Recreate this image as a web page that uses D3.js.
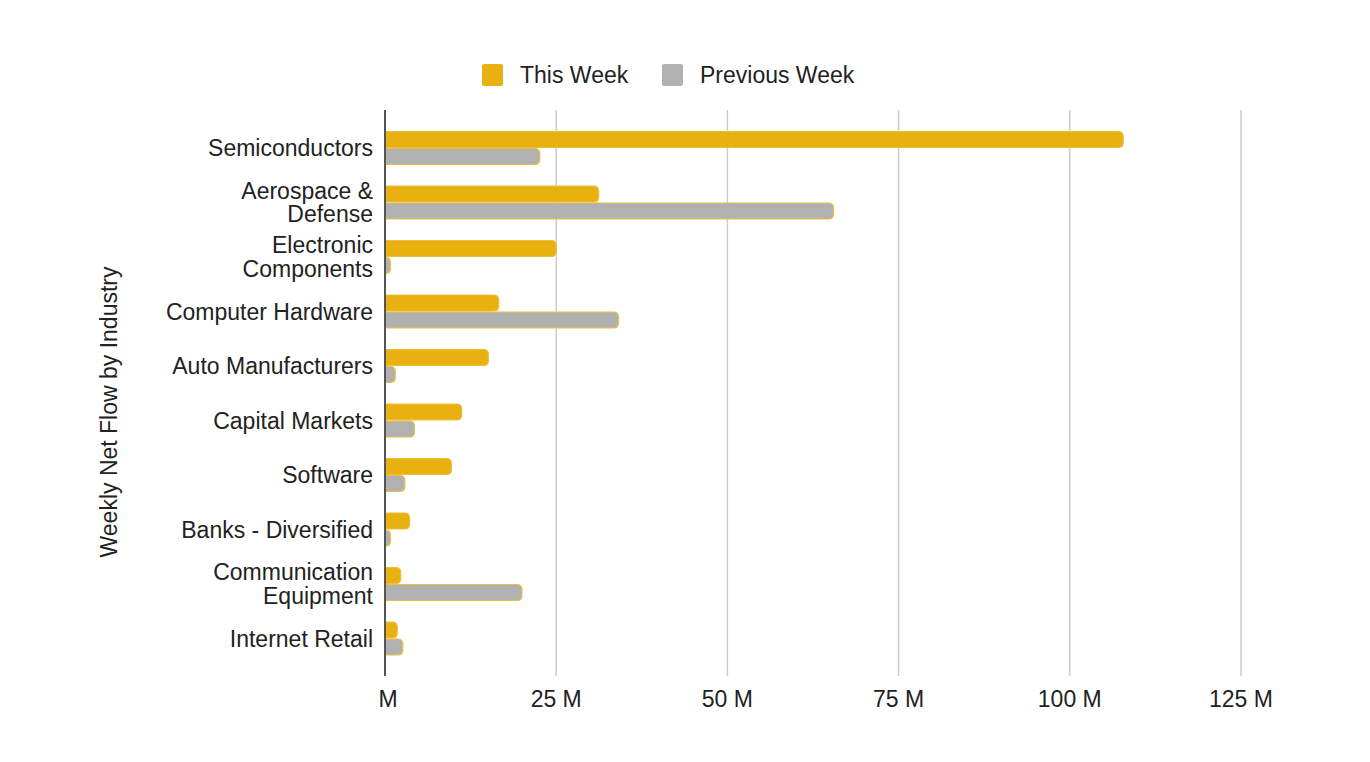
<!DOCTYPE html>
<html>
<head>
<meta charset="utf-8">
<script src="https://cdn.jsdelivr.net/npm/d3@7"></script>
<style>
  body { margin: 0; background: #fff; }
  svg { display: block; font-family: 'Liberation Sans', Arial, sans-serif; }
</style>
</head>
<body>
<svg id="chart"></svg>
<script>
const width = 1370
const height = 762
const margin = { top: 110, right: 129, bottom: 86, left: 385 }

// industries, top to bottom
const industries = [
  'Semiconductors', 'Aerospace & Defense', 'Electronic Components', 'Computer Hardware',
  'Auto Manufacturers', 'Capital Markets', 'Software', 'Banks - Diversified',
  'Communication Equipment', 'Internet Retail'
]
// label lines as shown on the axis
const labelLines = [
  ['Semiconductors'], ['Aerospace &', 'Defense'], ['Electronic', 'Components'], ['Computer Hardware'],
  ['Auto Manufacturers'], ['Capital Markets'], ['Software'], ['Banks - Diversified'],
  ['Communication', 'Equipment'], ['Internet Retail']
]
const series = ['This Week', 'Previous Week']
const thisWeek = [107.8, 31.2, 25.0, 16.6, 15.1, 11.2, 9.7, 3.6, 2.3, 1.8]
const previousWeek = [22.6, 65.5, 0.8, 34.1, 1.5, 4.3, 2.9, 0.8, 20.0, 2.6]
const xTicks = [0, 25, 50, 75, 100, 125]

const fontSize = '23px'

const color = d3.scaleOrdinal()
  .domain(series)
  .range(['#e8b10f', '#b1b1b1'])

const svg = d3.select('#chart')
  .attr('width', width)
  .attr('height', height)

const x = d3.scaleLinear()
  .domain([0, 125])
  .range([margin.left, width - margin.right])

const y = d3.scaleBand()
  .domain(industries)
  .range([120.75, 665.75])
  .paddingInner(0.376)
  .paddingOuter(0.188)

const ySub = d3.scaleBand()
  .domain(series)
  .range([0, y.bandwidth()])

const data = industries.map((name, i) => ({
  name,
  values: [
    { key: 'This Week', value: thisWeek[i] },
    { key: 'Previous Week', value: previousWeek[i] }
  ]
}))

// vertical gridlines
svg.append('g')
  .selectAll('line')
  .data(xTicks.slice(1))
  .enter()
  .append('line')
  .attr('x1', d => x(d))
  .attr('x2', d => x(d))
  .attr('y1', margin.top)
  .attr('y2', height - margin.bottom)
  .attr('stroke', '#cccccc')
  .attr('stroke-width', 1.5)

// bar with rounded right end
function barPath (x0, y0, w, h, r) {
  r = Math.min(r, w, h / 2)
  return `M${x0},${y0}H${x0 + w - r}Q${x0 + w},${y0} ${x0 + w},${y0 + r}` +
    `V${y0 + h - r}Q${x0 + w},${y0 + h} ${x0 + w - r},${y0 + h}H${x0}Z`
}

const groups = svg.append('g')
  .selectAll('g')
  .data(data)
  .enter()
  .append('g')
  .attr('transform', d => `translate(0, ${y(d.name)})`)

groups.selectAll('path')
  .data(d => d.values)
  .enter()
  .append('path')
  .attr('d', d => barPath(x(0), ySub(d.key) + 0.5, x(d.value) - x(0), ySub.bandwidth() - 1, 5))
  .attr('fill', d => color(d.key))
  .attr('stroke', '#ecbf3a')
  .attr('stroke-width', 1.2)

// left axis line
svg.append('line')
  .attr('x1', x(0))
  .attr('x2', x(0))
  .attr('y1', margin.top)
  .attr('y2', height - margin.bottom)
  .attr('stroke', '#555')
  .attr('stroke-width', 2)

// category labels, two-line ones drawn as separate texts
const labelRows = []
industries.forEach((name, i) => {
  const lines = labelLines[i]
  lines.forEach((line, j) => {
    labelRows.push({ name, line, offset: (j - (lines.length - 1) / 2) * 23.5 })
  })
})

svg.append('g')
  .attr('font-size', fontSize)
  .attr('fill', '#222')
  .attr('text-anchor', 'end')
  .selectAll('text')
  .data(labelRows)
  .enter()
  .append('text')
  .attr('x', x(0) - 12)
  .attr('y', d => y(d.name) + y.bandwidth() / 2 + d.offset)
  .attr('dy', '0.35em')
  .text(d => d.line)

// x tick labels
svg.append('g')
  .attr('font-size', fontSize)
  .attr('fill', '#222')
  .attr('text-anchor', 'middle')
  .selectAll('text')
  .data(xTicks)
  .enter()
  .append('text')
  .attr('x', d => x(d) + (d === 0 ? 3 : 0))
  .attr('y', 707)
  .text(d => d === 0 ? 'M' : `${d} M`)

// y axis title
svg.append('text')
  .attr('transform', 'translate(117, 412) rotate(-90)')
  .attr('text-anchor', 'middle')
  .attr('font-size', fontSize)
  .attr('fill', '#222')
  .text('Weekly Net Flow by Industry')

// legend
const legendPos = [482, 662]
const legend = svg.append('g')
  .selectAll('g')
  .data(series)
  .enter()
  .append('g')
  .attr('transform', (d, i) => `translate(${legendPos[i]}, 64)`)

legend.append('rect')
  .attr('width', 21)
  .attr('height', 22)
  .attr('rx', 2)
  .attr('fill', d => color(d))

legend.append('text')
  .attr('x', 38)
  .attr('y', 11)
  .attr('dy', '0.35em')
  .attr('font-size', fontSize)
  .attr('fill', '#222')
  .text(d => d)
</script>
</body>
</html>
